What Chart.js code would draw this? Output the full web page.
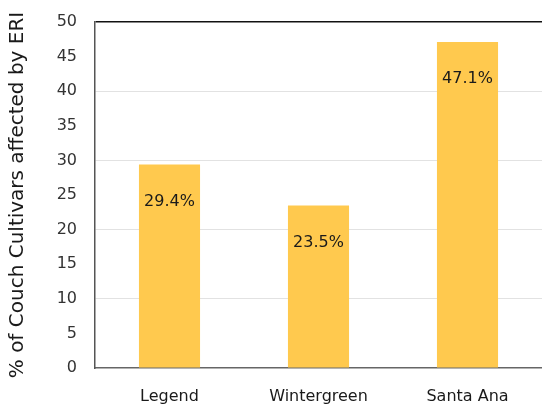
<!DOCTYPE html>
<html>
<head>
<meta charset="utf-8">
<script src="https://cdn.jsdelivr.net/npm/chart.js@4"></script>
<style>
  html, body { margin: 0; padding: 0; background: #fff; }
  #wrap { width: 542px; height: 406px; }
</style>
</head>
<body>
<div id="wrap"><canvas id="chart" width="542" height="406"></canvas></div>
<script>
// cultivars and % affected
var cultivars = ["Legend", "Wintergreen", "Santa Ana"];
var affected = [29.4, 23.5, 47.1];
var valueLabels = ["29.4%", "23.5%", "47.1%"];
var yTicks = [0, 5, 10, 15, 20, 25, 30, 35, 40, 45, 50];

var fontName = "'DejaVu Sans', sans-serif";

// writes the percentages inside the bars, a bit below the top
var barLabels = {
    id: "barLabels",
    afterDatasetsDraw: function (chart) {
        var ctx = chart.ctx;
        var meta = chart.getDatasetMeta(0);
        ctx.save();
        ctx.font = "16px " + fontName;
        ctx.fillStyle = "#1a1a1a";
        ctx.textAlign = "center";
        ctx.textBaseline = "middle";
        meta.data.forEach(function (bar, i) {
            ctx.fillText(valueLabels[i], bar.x, bar.y + 37);
        });
        ctx.restore();
    }
};

new Chart("chart", {
    type: "bar",
    data: {
        labels: cultivars,
        datasets: [{
            data: affected,
            backgroundColor: "#FFC94E",
            borderWidth: 0,
            categoryPercentage: 1,
            barPercentage: 0.41
        }]
    },
    options: {
        responsive: false,
        animation: false,
        layout: { padding: { top: 22, left: 0, right: 0, bottom: 0 } },
        plugins: {
            legend: { display: false },
            tooltip: { enabled: false }
        },
        scales: {
            x: {
                afterFit: function (axis) {
                    axis.height = 38;
                    axis.paddingLeft = 0;
                    axis.paddingRight = 0;
                },
                grid: { display: false, drawTicks: false },
                border: { color: "#666", width: 1.5 },
                ticks: {
                    padding: 19,
                    color: "#1a1a1a",
                    font: { family: fontName, size: 16 }
                }
            },
            y: {
                min: 0,
                max: 50,
                afterBuildTicks: function (axis) {
                    axis.ticks = yTicks.map(function (v) { return { value: v }; });
                },
                afterFit: function (axis) {
                    axis.width = 95;
                    axis.paddingTop = 0;
                    axis.paddingBottom = 0;
                },
                grid: {
                    drawTicks: false,
                    color: function (c) {
                        var v = c.tick.value;
                        if (v == 50) return "#111";
                        if (v > 0 && v % 10 == 0) return "#e2e2e2";
                        return "rgba(0,0,0,0)";
                    },
                    lineWidth: function (c) {
                        return c.tick.value == 50 ? 1.5 : 1;
                    }
                },
                border: { color: "#555", width: 1.5 },
                ticks: {
                    padding: 18,
                    color: "#333",
                    font: { family: fontName, size: 16 }
                },
                title: {
                    display: true,
                    text: "% of Couch Cultivars affected by ERI",
                    color: "#1a1a1a",
                    font: { family: fontName, size: 20 },
                    padding: { top: 6, bottom: 0 }
                }
            }
        }
    },
    plugins: [barLabels]
});
</script>
</body>
</html>
